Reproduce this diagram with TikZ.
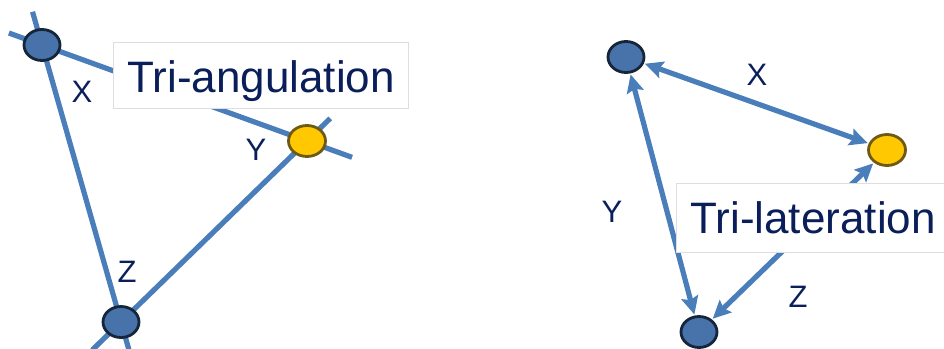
\documentclass[tikz,border=0pt]{standalone}
\usepackage{fontspec}
\setmainfont{Liberation Sans}
\usetikzlibrary{shapes.geometric,arrows.meta,calc,backgrounds}

\definecolor{linkblue}{RGB}{74,126,187}
\definecolor{nodeblue}{RGB}{71,114,170}
\definecolor{nodeedge}{RGB}{22,38,58}
\definecolor{objyellow}{RGB}{255,200,0}
\definecolor{objedge}{RGB}{110,90,20}
\definecolor{navy}{RGB}{10,30,90}
\definecolor{boxgray}{RGB}{222,222,222}

\begin{document}
\begin{tikzpicture}[x=1pt,y=-1pt,
  anchorpt/.style={ellipse,draw=nodeedge,fill=nodeblue,line width=2.8pt,minimum width=36pt,minimum height=31pt,inner sep=0pt},
  objpt/.style={ellipse,draw=objedge,fill=objyellow,line width=2.8pt,minimum width=37pt,minimum height=31pt,inner sep=0pt},
  bearing/.style={linkblue,line width=5.2pt},
  rangearrow/.style={linkblue,line width=5.2pt,{Stealth[length=18pt,width=17pt,inset=3pt]}-{Stealth[length=18pt,width=17pt,inset=3pt]},shorten <=1pt,shorten >=1pt},
  letter/.style={navy,font=\fontsize{31}{31}\selectfont,inner sep=0pt},
  titlebox/.style={draw=boxgray,line width=0.8pt,fill=white,text=navy,font=\fontsize{44}{44}\selectfont,inner ysep=0pt,inner xsep=14pt,anchor=base west}]
\useasboundingbox (0,0) rectangle (944,348);

% triangulation
\node[anchorpt] (a1) at (42,45) {};
\node[objpt] (obj1) at (307,141) {};
\node[anchorpt] (a2) at (121,322) {};
\begin{pgfonlayer}{background}
\draw[bearing] ($(a1)!-0.125!(obj1)$) -- ($(a1)!1.17!(obj1)$);
\draw[bearing] ($(a1)!-0.12!(a2)$) -- ($(a1)!1.1!(a2)$);
\draw[bearing] ($(obj1)!-0.125!(a2)$) -- ($(obj1)!1.155!(a2)$);
\end{pgfonlayer}
\node[titlebox,text height=50pt,text depth=16pt] (tri1) at (113,92) {Tri-angulation};
\node[letter] (x1) at (82,92) {X};
\node[letter] (y1) at (256,150) {Y};
\node[letter] (z1) at (127,272) {Z};

% trilateration
\node[anchorpt] (b1) at (626,57) {};
\node[objpt] (obj2) at (887,150) {};
\node[anchorpt] (b2) at (699,332) {};
\draw[rangearrow] (b1) -- (obj2);
\draw[rangearrow] (b1) -- (b2);
\draw[rangearrow] (obj2) -- (b2);
\node[titlebox,text height=50pt,text depth=19pt] (tri2) at (676,233) {Tri-lateration};
\node[letter] (x2) at (757,75) {X};
\node[letter] (y2) at (612,212) {Y};
\node[letter] (z2) at (798,297) {Z};
\end{tikzpicture}
\end{document}
